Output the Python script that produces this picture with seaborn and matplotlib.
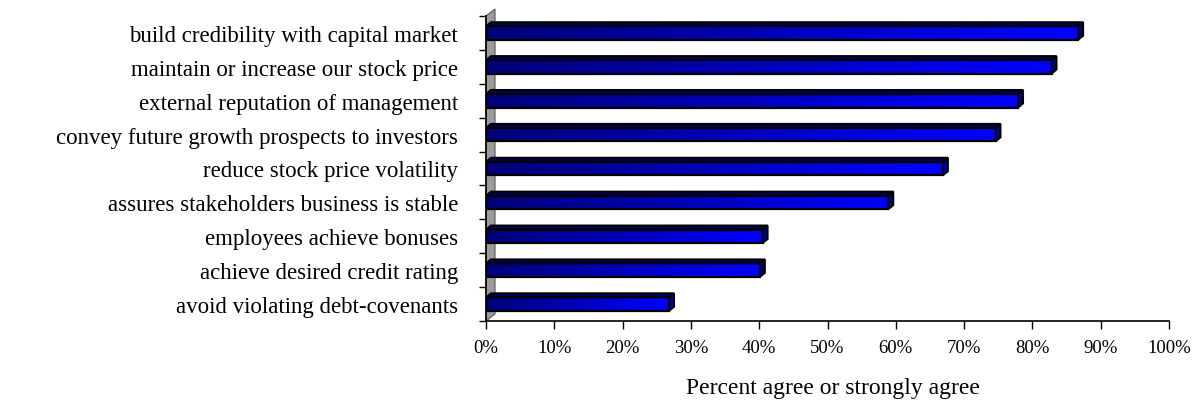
import numpy as np
import pandas as pd
import matplotlib
matplotlib.use("Agg")
import matplotlib.pyplot as plt
from matplotlib.patches import Polygon
from matplotlib.colors import LinearSegmentedColormap
import seaborn as sns

categories = [
    "build credibility with capital market",
    "maintain or increase our stock price",
    "external reputation of management",
    "convey future growth prospects to investors",
    "reduce stock price volatility",
    "assures stakeholders business is stable",
    "employees achieve bonuses",
    "achieve desired credit rating",
    "avoid violating debt-covenants",
]
values = [86.7, 82.8, 77.9, 74.6, 66.9, 58.9, 40.5, 40.1, 26.8]
xticks = [0, 10, 20, 30, 40, 50, 60, 70, 80, 90, 100]
xticklabels = [f"{t}%" for t in xticks]
xlabel = "Percent agree or strongly agree"

df = pd.DataFrame({"category": categories, "value": values})

sns.set_theme(style="white")
plt.rcParams["font.family"] = ["Liberation Serif", "DejaVu Serif"]
plt.rcParams["text.color"] = "black"
plt.rcParams["axes.labelcolor"] = "black"
plt.rcParams["xtick.color"] = "black"
plt.rcParams["ytick.color"] = "black"

W, H = 1202, 406
fig = plt.figure(figsize=(W / 100, H / 100), dpi=100)
ax_l, ax_r, ax_t, ax_b = 486, 1169, 17, 322
ax = fig.add_axes([ax_l / W, 1 - ax_b / H, (ax_r - ax_l) / W, (ax_b - ax_t) / H])

sns.barplot(data=df, x="value", y="category", orient="h", width=0.4,
            color="#0000c0", ax=ax, linewidth=0)

ax.set_xlim(0, 100)
ax.set_ylim(len(categories) - 0.5, -0.5)

# depth of 3D effect in data units
px_x = 100 / (ax_r - ax_l)
px_y = len(categories) / (ax_b - ax_t)
ddx, ddy = 5 * px_x, -4 * px_y

cmap = LinearSegmentedColormap.from_list("blu", ["#000078", "#0000ff"])
grad = np.linspace(0, 1, 256).reshape(1, -1)

for p in list(ax.patches):
    x0, y0 = p.get_x(), p.get_y()
    w, h = p.get_width(), p.get_height()
    x1 = x0 + w
    ytop, ybot = y0, y0 + h
    im = ax.imshow(grad, cmap=cmap, aspect="auto", extent=[x0, x1, ybot, ytop],
                   zorder=3, interpolation="bilinear")
    im.set_clip_path(p)
    p.set_facecolor("none")
    p.set_edgecolor("black")
    p.set_linewidth(1.6)
    p.set_zorder(4)
    top = Polygon([[x0, ytop], [x1, ytop], [x1 + ddx, ytop + ddy], [x0 + ddx, ytop + ddy]],
                  closed=True, facecolor="#000050", edgecolor="black", lw=1.4, zorder=4)
    ax.add_patch(top)
    side = Polygon([[x1, ytop], [x1 + ddx, ytop + ddy], [x1 + ddx, ybot + ddy], [x1, ybot]],
                   closed=True, facecolor="#00008a", edgecolor="black", lw=1.4, zorder=4)
    ax.add_patch(side)

# gray side wall
wdx, wdy = 9 * px_x, -7 * px_y
n = len(categories)
wall = Polygon([[0, -0.5], [wdx, -0.5 + wdy], [wdx, n - 0.5 + wdy], [0, n - 0.5]],
               closed=True, facecolor="#9c9c9c", edgecolor="#555555", lw=0.8,
               zorder=1, clip_on=False)
ax.add_patch(wall)

ax.set_xticks(xticks)
ax.set_xticklabels(xticklabels, fontsize=13.5)
ax.set_yticks(range(n))
ax.set_yticklabels(categories, fontsize=16.5)
ax.set_yticks(np.arange(-0.5, n, 1.0), minor=True)
ax.tick_params(axis="y", which="major", length=0, pad=20)
ax.tick_params(axis="y", which="minor", length=5, width=1, direction="out", left=True)
ax.tick_params(axis="x", which="major", length=6, width=1, direction="out", pad=7,
               bottom=True)

for s in ["top", "right"]:
    ax.spines[s].set_visible(False)
for s in ["left", "bottom"]:
    ax.spines[s].set_color("black")
    ax.spines[s].set_linewidth(1.2)
ax.set_ylabel("")
ax.set_xlabel(xlabel, fontsize=17)
ax.xaxis.set_label_coords(0.508, -0.185)
ax.xaxis.label.set_va("top")
ax.grid(False)

fig.savefig("out.png", dpi=100, facecolor="white")
